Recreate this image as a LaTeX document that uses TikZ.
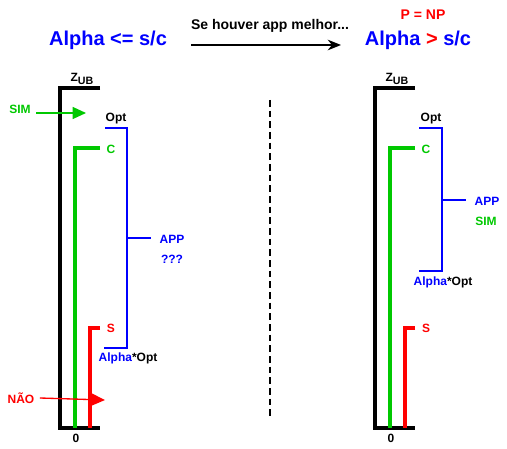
\documentclass[tikz,border=0pt]{standalone}
\usepackage{fontspec}
\setmainfont{Liberation Sans}
\usetikzlibrary{arrows.meta,positioning}
\definecolor{simgreen}{RGB}{0,200,0}
\definecolor{naored}{RGB}{255,0,0}
\definecolor{appblue}{RGB}{0,0,255}
\tikzset{
    bar/.style={line width=3pt, draw=#1},
    brk/.style={line width=1.1pt, draw=appblue},
    lbl/.style={font=\fontsize{9}{11}\selectfont\bfseries, inner sep=1pt},
    big/.style={font=\fontsize{15}{18}\selectfont\bfseries, text=appblue, inner sep=1pt},
    mid/.style={font=\fontsize{10.5}{12}\selectfont\bfseries, inner sep=1pt},
    arr/.style={-{Stealth[length=10pt,width=8pt]}, line width=1.1pt},
    arrc/.style={-{Triangle[length=10pt,width=9pt]}, line width=1pt, draw=#1, fill=#1},
}
\newcommand{\zub}{Z\raisebox{-2pt}{\fontsize{8}{9}\selectfont UB}}

\begin{document}
\begin{tikzpicture}[x=0.75pt, y=-0.75pt]
    \useasboundingbox (0,0) rectangle (507,449);

    % titulo
    \node[big] (lt) at (108,40) {Alpha <= s/c};
    \node[big] (rt) at (418,40) {Alpha {\color{naored}>} s/c};
    \node[mid, text=naored] (pnp) at (423,15) {P = NP};
    \coordinate (a0) at (191,45);
    \coordinate (a1) at (341,45);
    \draw[arr] (a0) -- (a1);
    \node[mid] (se) at (270,26) {Se houver app melhor...};

    % separador
    \draw[thick, dash pattern=on 5pt off 3pt] (270,100) -- (270,418);

    % lado esquerdo
    \draw[bar=black]    (100,88) -- (60,88) -- (60,428) -- (100,428);
    \draw[bar=simgreen] (100,148) -- (75,148) -- (75,428);
    \draw[bar=naored]   (100,328) -- (90,328) -- (90,428);
    \draw[brk] (105,128) -- (127,128) -- (127,348) -- (104,348);
    \draw[brk] (127,238) -- (151,238);

    \node[lbl] (zl)  at (82,79)   {\zub};
    \node[lbl] (ol)  at (116,119) {Opt};
    \node[lbl, text=simgreen] (cl) at (111,149) {C};
    \node[lbl, text=naored]   (sl) at (111,328) {S};
    \node[lbl] (aol) at (128,358) {{\color{appblue}Alpha}*Opt};
    \node[lbl, text=appblue] (appl) at (172,239) {APP};
    \node[lbl, text=appblue] (qq)   at (172,259) {???};
    \node[lbl] (z0l) at (76,438) {0};

    \node[lbl, text=simgreen] (siml) at (20,109) {SIM};
    \coordinate (simt) at (86,113);
    \draw[arrc=simgreen] (siml.east) ++(4,4) -- (simt);
    \node[lbl, text=naored] (naol) at (21,398) {NÃO};
    \coordinate (naot) at (105,400);
    \draw[arrc=naored] (naol.east) ++(4,0) -- (naot);

    % lado direito
    \draw[bar=black]    (415,88) -- (375,88) -- (375,428) -- (415,428);
    \draw[bar=simgreen] (415,148) -- (390,148) -- (390,428);
    \draw[bar=naored]   (415,328) -- (405,328) -- (405,428);
    \draw[brk] (419,128) -- (442,128) -- (442,271) -- (419,271);
    \draw[brk] (442,200) -- (466,200);

    \node[lbl] (zr)  at (397,79)  {\zub};
    \node[lbl] (or)  at (431,119) {Opt};
    \node[lbl, text=simgreen] (cr) at (426,149) {C};
    \node[lbl, text=naored]   (sr) at (426,328) {S};
    \node[lbl] (aor) at (443,282) {{\color{appblue}Alpha}*Opt};
    \node[lbl, text=appblue]  (appr) at (487,201) {APP};
    \node[lbl, text=simgreen] (simr) at (486,221) {SIM};
    \node[lbl] (z0r) at (391,438) {0};
\end{tikzpicture}
\end{document}
